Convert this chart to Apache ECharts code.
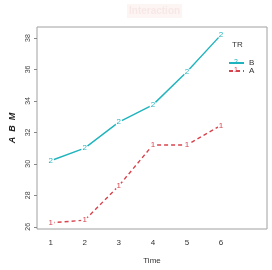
<!DOCTYPE html>
<html><head><meta charset="utf-8">
<script src="https://cdn.jsdelivr.net/npm/echarts@6/dist/echarts.min.js"></script>
<style>html,body{margin:0;padding:0;background:#fff}#c{width:272px;height:270px}</style>
</head><body><div id="c"></div>
<script>
const times = [1, 2, 3, 4, 5, 6];
const seriesB = [30.2, 31.0, 32.65, 33.75, 35.85, 38.2];
const seriesA = [26.25, 26.42, 28.6, 31.2, 31.2, 32.45];
const yTicks = [26, 28, 30, 32, 34, 36, 38];
const legendNames = ['B', 'A'];

const cyan = '#1fb4bd', red = '#d9434d';
const font = 'Liberation Sans, Arial, sans-serif';
function mk(name, vals, color, sym, dashed) {
  return {
    name: name, type: 'line', data: times.map((t, i) => [t, vals[i]]),
    symbol: 'circle', symbolSize: 7, showSymbol: true, silent: true,
    lineStyle: { color: color, width: 1.4, type: dashed ? [4, 3] : 'solid' },
    itemStyle: { color: '#fff', borderWidth: 0 },
    label: { show: true, position: ['50%', '50%'], align: 'center', verticalAlign: 'middle',
      formatter: sym, color: color, fontSize: 8, fontFamily: font }
  };
}
const chart = echarts.init(document.getElementById('c'), null, { renderer: 'canvas' });
chart.setOption({
  animation: false,
  title: { text: 'Interaction', left: 127, top: 4,
    backgroundColor: '#fdf5f4', padding: [2, 2],
    textStyle: { color: '#f7e8e6', fontSize: 10, fontWeight: 'bold', fontFamily: font } },
  grid: { left: 36, right: 5, top: 27, bottom: 37, show: true, borderColor: '#a0a0a0', borderWidth: 1, backgroundColor: 'transparent' },
  xAxis: { type: 'value', min: 0.6, max: 7.35, name: 'Time', nameLocation: 'middle', nameGap: 28,
    nameTextStyle: { fontSize: 8, color: '#333', fontFamily: font },
    axisLine: { show: false }, splitLine: { show: false },
    axisTick: { show: false },
    axisLabel: { customValues: times, fontSize: 8, color: '#333', margin: 10, fontFamily: font } },
  yAxis: { type: 'value', min: 25.86, max: 38.7, name: 'A  B  M', nameLocation: 'middle', nameGap: 20,
    nameTextStyle: { fontSize: 9, color: '#222', fontStyle: 'italic', fontWeight: 'bold', fontFamily: font },
    axisLine: { show: false }, splitLine: { show: false },
    axisTick: { show: true, customValues: yTicks, length: 3, lineStyle: { color: '#888' } },
    axisLabel: { customValues: yTicks, rotate: 90, fontSize: 7, color: '#444', margin: 5, fontFamily: font } },
  legend: { data: legendNames, orient: 'vertical', left: 228, top: 59, itemWidth: 15, itemHeight: 6, itemGap: 0,
    itemStyle: { opacity: 0 }, padding: 0,
    textStyle: { fontSize: 8, lineHeight: 8, color: '#333', fontFamily: font } },
  graphic: [
    { type: 'text', left: 232, top: 41, style: { text: 'TR', fontSize: 8, fill: '#333', fontFamily: font } },
    { type: 'text', left: 234, top: 59, style: { text: '2', fontSize: 7, fill: cyan, fontFamily: font, backgroundColor: '#fff' } },
    { type: 'text', left: 234, top: 67, style: { text: '1', fontSize: 7, fill: red, fontFamily: font, backgroundColor: '#fff' } }
  ],
  series: [mk('B', seriesB, cyan, '2', false), mk('A', seriesA, red, '1', true)]
});
</script></body></html>
